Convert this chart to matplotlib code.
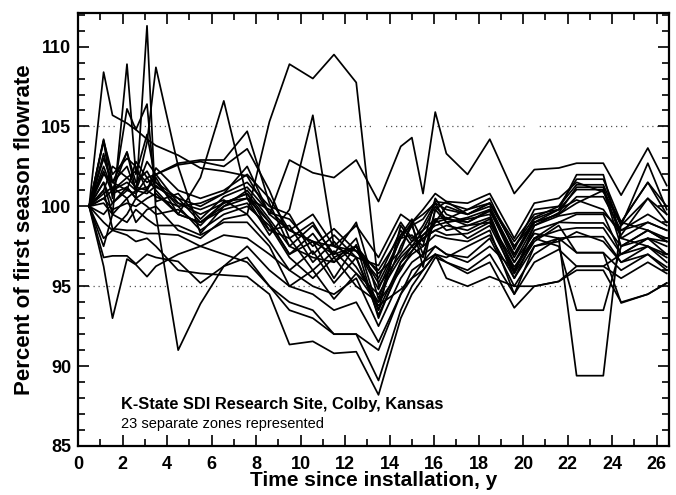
"""
Flowrate of 23 SDI zones relative to the first season, Colby, Kansas.
"""
import matplotlib
matplotlib.use('Agg')
import matplotlib.pyplot as plt
from matplotlib.ticker import MultipleLocator

plt.rcParams['font.family'] = ['Liberation Sans', 'DejaVu Sans']

# ── Data ─────────────────────────────────────────────────────
# measurement times, years since installation
years = [0.5, 1.15, 1.55, 2.2, 2.6, 3.1, 3.5, 4.5, 5.5, 6.55, 7.6, 8.6,
         9.5, 10.55, 11.5, 12.5, 13.5, 14.5, 15.0, 15.5, 16.05, 16.55,
         17.5, 18.5, 19.6, 20.5, 21.6, 22.4, 23.6, 24.4, 25.6, 26.45]

# percent of first season flowrate, one list per zone
zone01 = [100, 108.4, 105.7, 105.2, 104.8, 104.2, 103.8, 103.2, 102.4, 102.2, 101.9, 99.5,
          98.5, 97.8, 97.5, 97.2, 95.5, 98.5, 97.5, 96.8, 99.8, 99.0,
          99.3, 99.8, 97.0, 99.0, 99.5, 100.6, 100.6, 98.5, 99.0, 98.5]
zone02 = [100, 101.5, 99.5, 108.9, 102.0, 104.5, 101.5, 100.5, 99.0, 100.2, 100.8, 98.5,
          98.8, 96.5, 97.8, 96.2, 94.0, 97.5, 98.8, 97.0, 99.2, 98.5,
          98.8, 99.3, 96.0, 98.5, 99.0, 99.5, 99.5, 97.0, 98.0, 97.5]
zone03 = [100, 102.2, 100.8, 101.2, 100.5, 111.3, 99.5, 99.8, 98.8, 100.3, 100.5, 99.0,
          97.0, 98.3, 96.5, 98.0, 93.5, 98.8, 97.8, 98.8, 100.2, 99.0,
          99.2, 99.5, 95.8, 98.8, 99.6, 101.2, 101.2, 98.0, 97.5, 97.0]
zone04 = [100, 103.0, 101.5, 102.5, 101.0, 104.0, 108.7, 102.5, 98.3, 100.0, 101.0, 99.2,
          97.5, 96.8, 96.5, 97.5, 95.8, 97.2, 99.0, 96.2, 99.8, 100.3,
          99.5, 100.2, 97.5, 99.3, 100.0, 101.7, 101.7, 99.0, 101.5, 99.5]
zone05 = [100, 104.1, 100.5, 106.1, 104.8, 106.4, 100.3, 100.8, 99.2, 100.6, 101.2, 99.6,
          99.2, 97.5, 98.6, 97.2, 96.0, 98.2, 98.8, 99.2, 100.3, 100.2,
          99.8, 100.5, 97.3, 99.8, 100.0, 101.35, 101.35, 98.8, 100.5, 99.0]
zone06 = [100, 101.0, 102.5, 101.8, 102.2, 101.5, 101.8, 99.5, 101.8, 106.6, 100.5, 99.8,
          98.5, 97.8, 97.0, 97.5, 94.8, 98.0, 98.2, 97.5, 100.5, 99.5,
          99.0, 99.7, 96.8, 99.0, 99.8, 101.05, 101.05, 97.5, 98.5, 98.0]
zone07 = [100, 100.8, 101.2, 100.5, 101.0, 100.8, 101.3, 100.2, 99.8, 100.4, 99.5, 105.3,
          108.9, 108.0, 109.5, 107.75, 95.0, 97.0, 97.8, 98.2, 99.0, 99.2,
          99.0, 99.8, 96.5, 98.8, 99.4, 99.6, 99.6, 98.5, 99.5, 98.8]
zone08 = [100, 101.5, 100.2, 101.0, 100.8, 101.8, 101.0, 99.5, 99.0, 100.0, 100.5, 98.2,
          99.8, 105.7, 97.5, 96.8, 93.5, 96.5, 97.2, 98.0, 98.5, 98.8,
          98.5, 99.2, 95.5, 98.0, 99.0, 98.96, 98.96, 97.5, 98.0, 97.8]
zone09 = [100, 100.5, 101.0, 101.5, 101.0, 101.2, 101.5, 100.0, 100.2, 100.8, 102.5, 99.5,
          102.9, 102.1, 101.8, 102.9, 100.3, 103.75, 104.3, 100.8, 105.9, 103.3,
          102.0, 104.2, 100.8, 102.3, 102.4, 102.7, 102.7, 100.7, 103.65, 101.3]
zone10 = [100, 102.0, 101.5, 101.0, 102.8, 101.8, 102.0, 102.7, 102.9, 102.9, 104.7, 100.2,
          97.5, 98.8, 97.0, 99.0, 94.2, 98.2, 99.2, 97.8, 99.0, 100.0,
          99.5, 100.0, 97.0, 99.2, 99.8, 101.98, 101.98, 98.0, 99.0, 98.5]
zone11 = [100, 104.2, 101.5, 103.4, 101.0, 102.8, 102.0, 102.6, 102.8, 102.5, 103.6, 101.0,
          98.0, 99.0, 96.8, 97.5, 95.2, 98.0, 99.0, 99.5, 100.2, 99.8,
          99.5, 100.2, 97.5, 99.0, 99.5, 100.2, 101.0, 98.8, 102.7, 99.8]
zone12 = [100, 96.25, 93.0, 96.7, 96.35, 95.6, 96.25, 97.0, 97.5, 98.2, 98.0, 97.0,
          96.0, 95.0, 94.5, 95.5, 92.5, 95.5, 96.5, 97.0, 97.5, 97.0,
          96.8, 98.0, 95.0, 97.0, 98.0, 98.1, 98.1, 96.5, 97.5, 96.5]
zone13 = [100, 98.0, 98.5, 99.5, 100.5, 100.0, 99.5, 91.0, 93.9, 96.25, 97.5, 96.0,
          95.0, 94.5, 93.5, 94.0, 91.5, 94.5, 95.5, 96.5, 97.0, 96.8,
          97.5, 98.2, 95.5, 97.5, 98.0, 97.1, 97.1, 96.0, 97.0, 96.2]
zone14 = [100, 96.8, 96.9, 96.9, 96.4, 97.0, 96.8, 96.55, 95.2, 96.25, 96.8, 95.0,
          93.5, 93.0, 92.0, 92.0, 91.0, 94.5, 96.0, 96.5, 97.5, 97.0,
          96.5, 97.5, 96.0, 98.0, 98.5, 98.65, 98.65, 97.0, 98.0, 97.0]
zone15 = [100, 99.0, 98.5, 98.2, 97.8, 98.0, 97.5, 96.0, 95.8, 95.7, 95.6, 94.5,
          91.35, 91.55, 90.8, 90.9, 88.2, 93.0, 94.5, 95.5, 96.8, 96.5,
          96.0, 97.0, 94.5, 96.5, 97.3, 96.25, 96.25, 95.5, 96.5, 95.8]
zone16 = [100, 101.0, 98.6, 98.5, 98.5, 98.3, 98.3, 98.2, 97.5, 97.0, 96.5, 95.0,
          94.0, 93.5, 92.0, 92.0, 89.1, 93.5, 95.0, 96.0, 97.0, 96.5,
          95.8, 96.5, 93.65, 95.0, 95.3, 96.0, 96.0, 94.0, 94.5, 95.2]
zone17 = [100, 100.5, 99.8, 100.2, 100.0, 100.5, 100.8, 99.5, 99.0, 99.8, 100.2, 98.5,
          98.0, 96.0, 97.2, 95.8, 94.5, 96.8, 97.5, 98.0, 98.5, 98.2,
          98.3, 99.0, 96.5, 98.3, 98.0, 89.4, 89.4, 99.0, 98.5, 97.8]
zone18 = [100, 102.5, 101.0, 101.8, 101.2, 101.0, 102.0, 100.2, 99.5, 100.2, 100.8, 99.0,
          97.0, 97.8, 95.5, 97.6, 93.0, 96.5, 97.5, 98.5, 99.2, 99.3,
          98.8, 99.0, 96.2, 98.0, 97.5, 93.5, 93.5, 97.5, 98.5, 97.8]
zone19 = [100, 99.5, 100.2, 101.2, 100.5, 101.0, 100.6, 100.0, 98.5, 99.5, 100.0, 98.8,
          96.8, 95.5, 96.8, 95.0, 94.0, 96.0, 97.2, 98.2, 98.8, 99.0,
          98.0, 98.8, 95.8, 97.8, 98.8, 97.1, 97.1, 93.95, 94.5, 95.2]
zone20 = [100, 100.2, 99.5, 99.0, 99.8, 99.2, 98.8, 98.8, 98.2, 99.0, 99.0, 97.5,
          95.0, 96.0, 94.2, 95.8, 93.8, 94.8, 95.5, 96.0, 97.0, 95.5,
          95.0, 95.6, 95.0, 95.0, 95.3, 96.25, 96.25, 97.0, 97.5, 96.8]
zone21 = [100, 103.3, 101.0, 103.4, 101.5, 102.2, 101.2, 100.5, 100.0, 100.8, 101.5, 100.0,
          99.5, 97.0, 98.2, 96.8, 96.3, 99.0, 98.0, 98.5, 100.0, 99.2,
          99.8, 100.2, 97.8, 99.5, 99.8, 100.4, 99.8, 98.2, 100.5, 99.5]
zone22 = [100, 104.1, 102.0, 103.0, 102.5, 101.0, 102.4, 101.0, 100.5, 101.0, 102.0, 100.5,
          98.5, 99.5, 97.5, 98.8, 96.8, 99.5, 99.0, 99.8, 100.8, 100.3,
          100.2, 100.8, 98.0, 100.2, 100.5, 101.5, 100.9, 99.0, 101.5, 100.0]
zone23 = [100, 97.5, 99.5, 100.5, 99.0, 99.8, 100.0, 98.5, 98.0, 99.2, 99.5, 97.8,
          96.0, 97.2, 95.2, 96.8, 93.2, 96.2, 97.0, 97.5, 98.2, 98.0,
          97.8, 98.5, 94.5, 97.5, 97.8, 98.4, 97.8, 96.5, 97.0, 96.0]

zones = [zone01, zone02, zone03, zone04, zone05, zone06, zone07, zone08,
         zone09, zone10, zone11, zone12, zone13, zone14, zone15, zone16,
         zone17, zone18, zone19, zone20, zone21, zone22, zone23]

# ── Plot ─────────────────────────────────────────────────────
fig = plt.figure(figsize=(6.76, 4.95), dpi=100)
ax = fig.add_axes([0.1154, 0.099, 0.8742, 0.8747])

for z in zones:
    ax.plot(years, z, color='black', linewidth=1.25)

# dotted reference lines
for yref in (95, 105):
    ax.axhline(yref, color='#555555', linewidth=0.9,
               linestyle=(0, (1, 3, 1, 3, 1, 3, 1, 3, 1, 3, 1, 3, 1, 3, 1, 12)),
               zorder=0)

ax.set_xlim(0, 26.55)
ax.set_ylim(85, 112.1)
ax.xaxis.set_major_locator(MultipleLocator(2))
ax.xaxis.set_minor_locator(MultipleLocator(1))
ax.yaxis.set_major_locator(MultipleLocator(5))
ax.yaxis.set_minor_locator(MultipleLocator(1))

ax.tick_params(which='both', direction='in', top=True, right=True,
               width=1.2, labelsize=13)
ax.tick_params(which='major', length=8)
ax.tick_params(which='minor', length=5)
ax.tick_params(axis='x', pad=7)
ax.tick_params(axis='y', pad=5)
for lab in ax.get_xticklabels() + ax.get_yticklabels():
    lab.set_fontweight('bold')
for sp in ax.spines.values():
    sp.set_linewidth(1.6)

ax.set_xlabel('Time since installation, y', fontsize=15, fontweight='bold',
              labelpad=-1)
ax.set_ylabel('Percent of first season flowrate', fontsize=16,
              fontweight='bold', labelpad=4)

ax.text(1.95, 86.15, '23 separate zones represented', fontsize=10.5)
ax.text(1.95, 87.3, 'K-State SDI Research Site, Colby, Kansas', fontsize=11.8,
        fontweight='bold')

fig.savefig('out.png', dpi=100)
